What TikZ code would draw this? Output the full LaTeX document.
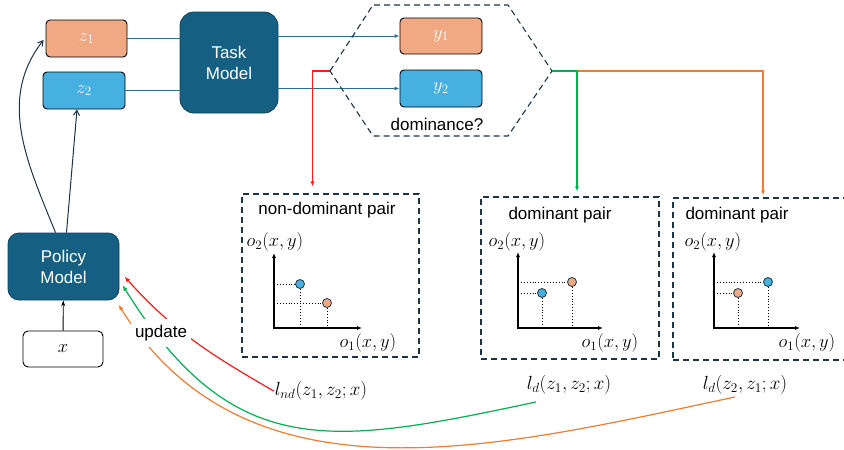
\RequirePackage{fix-cm}
\documentclass[tikz,border=0pt]{standalone}
\usepackage{amsmath}
\usepackage{fontspec}
\setmainfont{Liberation Sans}
\usepackage{tikz}
\usetikzlibrary{positioning, calc, arrows.meta}
\definecolor{modelfill}{HTML}{156082}
\definecolor{outorange}{HTML}{F1A983}
\definecolor{outblue}{HTML}{46B1E1}
\definecolor{linkcol}{HTML}{2D6F90}
\definecolor{dashcol}{HTML}{1E3445}
\definecolor{ndred}{HTML}{FF1A1A}
\definecolor{dgreen}{HTML}{00B050}
\definecolor{dorange}{HTML}{ED7D31}
\newcommand{\obj}[1]{$o_{#1}(x,y)$}
\newcommand{\lossnd}[2]{$l_{nd}(#1,#2;x)$}
\newcommand{\lossd}[2]{$l_{d}(#1,#2;x)$}

\begin{document}
\begin{tikzpicture}[x=1pt, y=1pt, font=\fontsize{17}{21}\selectfont,
    model/.style={draw=modelfill!70!black, fill=modelfill, text=white, align=center, rounded corners=14pt, line width=0.8pt},
    sample/.style={draw=black, rounded corners=4pt, text=white, line width=0.9pt, minimum width=82pt, minimum height=37pt, font=\fontsize{18.5}{21}\selectfont},
    panel/.style={draw=dashcol, dashed, dash pattern=on 6pt off 4pt, line width=1.1pt},
    link/.style={draw=linkcol, line width=0.9pt},
    pt/.style={circle, draw=dashcol, line width=0.8pt, inner sep=0pt, minimum size=9pt},
    axis/.style={line width=1.1pt, {Latex[length=5pt,width=4pt]}-{Latex[length=5pt,width=4pt]}},
    guide/.style={dotted, line width=0.9pt},
    axlabel/.style={font=\fontsize{18.5}{21}\selectfont},
    loss/.style={font=\fontsize{19}{21}\selectfont, inner sep=1pt},
    upd/.style={line width=1.2pt, -{Latex[length=6pt,width=4.5pt]}}]
  \useasboundingbox (0,0) rectangle (844,-450);

  % models and samples
  \node[model, minimum width=98pt, minimum height=101pt] (task) at (229,-62.5) {Task\\Model};
  \node[model, minimum width=111pt, minimum height=67pt, rounded corners=11pt] (policy) at (63.5,-266.5) {Policy\\Model};
  \node[sample, draw=black, text=black, fill=white, minimum width=80pt, minimum height=36pt, rounded corners=5pt] (xin) at (63,-349) {$x$};

  \node[sample, fill=outorange, minimum width=81pt] (z1) at (86.5,-38.5) {$z_1$};
  \node[sample, fill=outblue] (z2) at (84,-90.5) {$z_2$};
  \node[sample, fill=outorange, minimum height=36pt] (y1) at (441,-36) {$y_1$};
  \node[sample, fill=outblue] (y2) at (441,-88.5) {$y_2$};

  \draw[-{Stealth[length=6pt,width=4pt]}, line width=0.9pt] (xin) -- (policy);
  \draw[-{Straight Barb[length=5pt,width=6pt]}, draw=dashcol, line width=1pt] ([xshift=3pt]policy.north) -- ([xshift=-7pt]z2.south);
  \draw[-{Straight Barb[length=5pt,width=6pt]}, draw=dashcol, line width=1pt] ([xshift=-8pt]policy.north) to[out=112, in=232] ([shift={(-2pt,-1.5pt)}]z1.west);

  \draw[link] (z1) -- (z1 -| task.west);
  \draw[link] (z2) -- (z2 -| task.west);
  \draw[link, -{Latex[length=5pt,width=4pt]}] (task.east |- y1) -- (y1);
  \draw[link, -{Latex[length=5pt,width=4pt]}] (task.east |- y2) -- (y2);

  % dominance check
  \coordinate (hexL) at (330,-71);
  \coordinate (hexR) at (552,-71);
  \draw[panel] (hexL) -- (373,-5) -- (508,-5) -- (hexR) -- (508,-136) -- (373,-136) -- cycle;
  \node (dom) at (437,-124) {dominance?};

  % pair panels
  \node[panel, minimum width=177pt, minimum height=163pt] (box1) at (330.5,-275.5) {};
  \node[panel, minimum width=178pt, minimum height=162pt] (box2) at (570,-278) {};
  \node[panel, minimum width=172pt, minimum height=162pt] (box3) at (759,-279) {};

  \draw[ndred, line width=1.1pt, -{Latex[length=5pt,width=4pt]}] (hexL) -| ([shift={(-18pt,7pt)}]box1.north);
  \draw[dorange, line width=1.1pt, -{Latex[length=5pt,width=4pt]}] (hexR) -| ([shift={(4pt,2pt)}]box3.north);
  \draw[dgreen, line width=1.1pt, -{Latex[length=5pt,width=4pt]}] (hexR) -| ([shift={(7pt,5pt)}]box2.north);

  \begin{scope}[shift={(274,-328)}]
    \node at (53,118) {non-dominant pair};
    \node[axlabel] at (1,86) {\obj{2}};
    \node[axlabel] at (94,-15) {\obj{1}};
    \draw[axis] (0,75) -- (0,0) -- (88,0);
    \node[pt, fill=outblue] (a1) at (26,44) {};
    \node[pt, fill=outorange] (a2) at (53,25) {};
    \draw[guide] (0,44) -- (a1) -- (26,0);
    \draw[guide] (0,25) -- (a2) -- (53,0);
  \end{scope}

  \begin{scope}[shift={(518,-328)}]
    \node at (42,113) {dominant pair};
    \node[axlabel] at (-1,86) {\obj{2}};
    \node[axlabel] at (92,-15) {\obj{1}};
    \draw[axis] (0,76) -- (0,0) -- (85,0);
    \node[pt, fill=outblue] (b1) at (24,35) {};
    \node[pt, fill=outorange] (b2) at (54,46) {};
    \draw[guide] (0,35) -- (b1) -- (24,0);
    \draw[guide] (0,46) -- (b2) -- (54,0);
  \end{scope}

  \begin{scope}[shift={(714,-328)}]
    \node at (23,113) {dominant pair};
    \node[axlabel] at (-1,86) {\obj{2}};
    \node[axlabel] at (93,-15) {\obj{1}};
    \draw[axis] (0,76) -- (0,0) -- (86,0);
    \node[pt, fill=outorange] (c1) at (24,35) {};
    \node[pt, fill=outblue] (c2) at (54,46) {};
    \draw[guide] (0,35) -- (c1) -- (24,0);
    \draw[guide] (0,46) -- (c2) -- (54,0);
  \end{scope}

  % losses back to the policy
  \node[loss] (lnd) at (321,-391) {\lossnd{z_1}{z_2}};
  \node[loss] (ld1) at (569,-385) {\lossd{z_1}{z_2}};
  \node[loss] (ld2) at (745,-385) {\lossd{z_2}{z_1}};

  \draw[upd, ndred] (lnd.west) to[out=150, in=-48] ([shift={(5pt,-10pt)}]policy.east);
  \draw[upd, dgreen] ([shift={(-33pt,-17pt)}]ld1.center) to[out=192, in=-58, looseness=1.25] ([shift={(3pt,-18.5pt)}]policy.east);
  \draw[upd, dorange] ([shift={(-10pt,-12pt)}]ld2.center) to[out=192, in=-58] ([shift={(-1pt,-4pt)}]policy.south east);

  \node[fill=white, inner xsep=4pt, inner ysep=6pt] (upd) at (161,-333) {update};
\end{tikzpicture}
\end{document}
